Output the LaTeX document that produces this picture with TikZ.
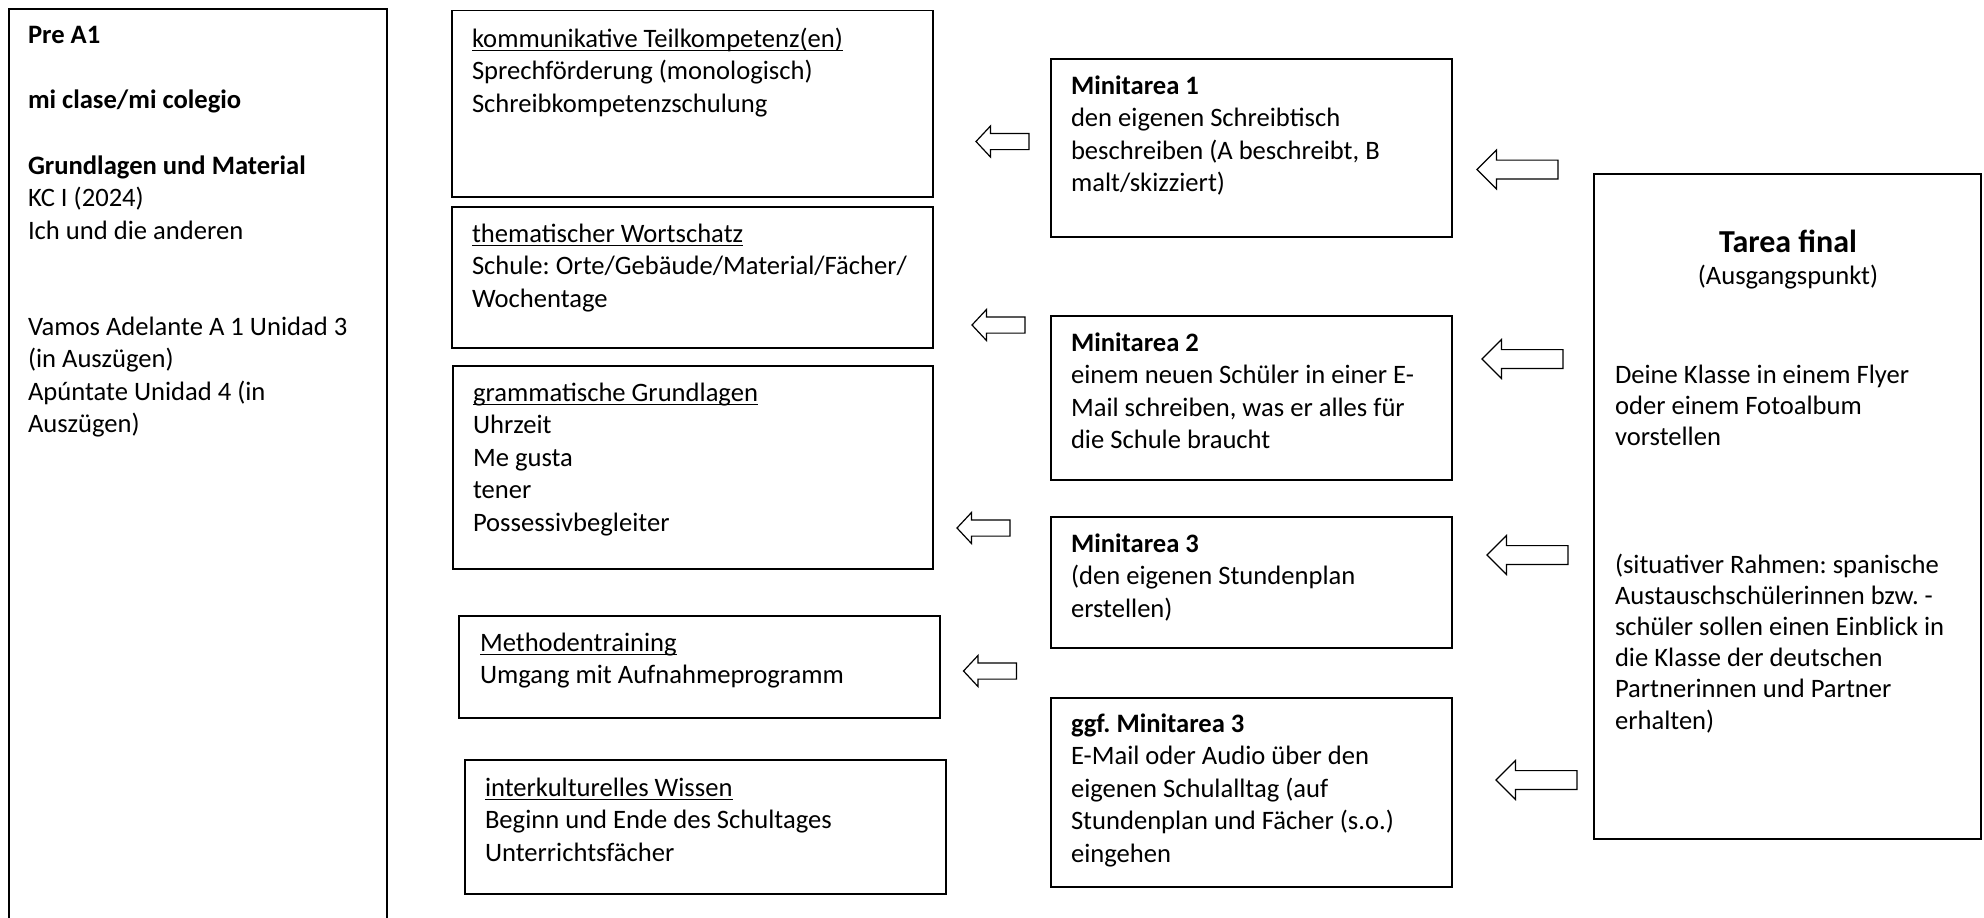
\documentclass[tikz,border=0pt]{standalone}
\usepackage{fontspec}
\setmainfont{Carlito}
\usetikzlibrary{fit,shapes.arrows}
\newsavebox\ulbox
\newcommand\myul[1]{\sbox\ulbox{#1}\rlap{\rule[-2.05pt]{\wd\ulbox}{0.75pt}}\usebox\ulbox}
\frenchspacing
\begin{document}
\frenchspacing
\begin{tikzpicture}[x=0.5pt,y=-0.5pt,
  box/.style={draw, line width=0.9pt, inner sep=0pt, outer sep=0pt},
  txt/.style={anchor=north west, inner sep=0pt, outer sep=0pt, align=left, yshift=11.375pt, font=\fontsize{13.3}{16.25}\selectfont},
  ttxt/.style={anchor=north west, inner sep=0pt, outer sep=0pt, align=left, yshift=10.92pt, font=\fontsize{13.3}{15.6}\selectfont},
  lone/.style={anchor=base west, inner sep=0pt, outer sep=0pt, font=\fontsize{13.3}{16.25}\selectfont},
  blk/.style={single arrow, draw, line width=0.6pt, shape border rotate=180, inner xsep=0pt, outer sep=0pt, anchor=tip},
  blkR/.style={blk, minimum height=40.5pt, inner ysep=4.4pt, single arrow head extend=5pt, single arrow tip angle=90},
  blkL/.style={blk, minimum height=26.5pt, inner ysep=3.75pt, single arrow head extend=3.75pt, single arrow tip angle=94}
]
\useasboundingbox (0,0) rectangle (1984,917);
\clip (0,0) rectangle (1984,917);

% left column
\node[box, fit={(9,9) (387,940)}] (lbox) {};
\node[lone] (l1) at (28,43) {\textbf{Pre A1}};
\node[lone] (l2) at (28,108) {\textbf{mi clase/mi colegio}};
\node[txt] (l3) at (28,174) {\strut\textbf{Grundlagen und Material}\\KC I (2024)\\Ich und die anderen};
\node[txt] (l4) at (28,335) {\strut Vamos Adelante A 1 Unidad 3\\(in Auszügen)\\Apúntate Unidad 4 (in\\Auszügen)};

% competence boxes
\node[box, fit={(452,10.5) (933,197)}] (komm) {};
\node[txt] (kommT) at (472,47) {\strut\myul{kommunikative Teilkompetenz(en)}\\Sprechförderung (monologisch)\\Schreibkompetenzschulung};

\node[box, fit={(452,207) (933,348)}] (them) {};
\node[txt] (themT) at (472,242) {\strut\myul{thematischer Wortschatz}\\Schule: Orte/Gebäude/Material/Fächer/\\Wochentage};

\node[box, fit={(453,366) (933,569)}] (gramm) {};
\node[txt] (grammT) at (473,401) {\strut\myul{grammatische Grundlagen}\\Uhrzeit\\Me gusta\\tener\\Possessivbegleiter};

\node[box, fit={(459,616) (940,718)}] (meth) {};
\node[txt] (methT) at (480,651) {\strut\myul{Methodentraining}\\Umgang mit Aufnahmeprogramm};

\node[box, fit={(465,760) (946,894)}] (inter) {};
\node[txt] (interT) at (485,796) {\strut\myul{interkulturelles Wissen}\\Beginn und Ende des Schultages\\Unterrichtsfächer};

% minitareas
\node[box, fit={(1051,59) (1452,237)}] (m1) {};
\node[txt] (m1T) at (1071,94) {\strut\textbf{Minitarea 1}\\den eigenen Schreibtisch\\beschreiben (A beschreibt, B\\malt/skizziert)};

\node[box, fit={(1051,316) (1452,480)}] (m2) {};
\node[txt] (m2T) at (1071,351) {\strut\textbf{Minitarea 2}\\einem neuen Schüler in einer E-\\Mail schreiben, was er alles für\\die Schule braucht};

\node[box, fit={(1051,517) (1452,648)}] (m3) {};
\node[txt] (m3T) at (1071,552) {\strut\textbf{Minitarea 3}\\(den eigenen Stundenplan\\erstellen)};

\node[box, fit={(1051,698) (1452,887)}] (m4) {};
\node[txt] (m4T) at (1071,732) {\strut\textbf{ggf. Minitarea 3}\\E-Mail oder Audio über den\\eigenen Schulalltag (auf\\Stundenplan und Fächer (s.o.)\\eingehen};

% tarea final
\node[box, fit={(1594,174) (1981,839)}] (tf) {};
\node[anchor=base, inner sep=0pt, font=\fontsize{16}{19}\selectfont\bfseries] (tfH) at (1788,252) {Tarea final};
\node[anchor=base, inner sep=0pt, font=\fontsize{13.3}{16.25}\selectfont] (tfS) at (1788,284) {(Ausgangspunkt)};
\node[ttxt] (tfA) at (1615,383) {\strut Deine Klasse in einem Flyer\\oder einem Fotoalbum\\vorstellen};
\node[ttxt] (tfB) at (1615,573) {\strut(situativer Rahmen: spanische\\Austauschschülerinnen bzw. -\\schüler sollen einen Einblick in\\die Klasse der deutschen\\Partnerinnen und Partner\\erhalten)};

% block arrows
\node[blkL] (a1) at (976,141.5) {};
\node[blkL] (a2) at (972,325) {};
\node[blkL] (a3) at (957,528) {};
\node[blkL] (a4) at (963.5,671) {};
\node[blkR] (b1) at (1477,169.5) {};
\node[blkR] (b2) at (1482,359) {};
\node[blkR] (b3) at (1487,555) {};
\node[blkR] (b4) at (1496,780) {};
\end{tikzpicture}
\end{document}
